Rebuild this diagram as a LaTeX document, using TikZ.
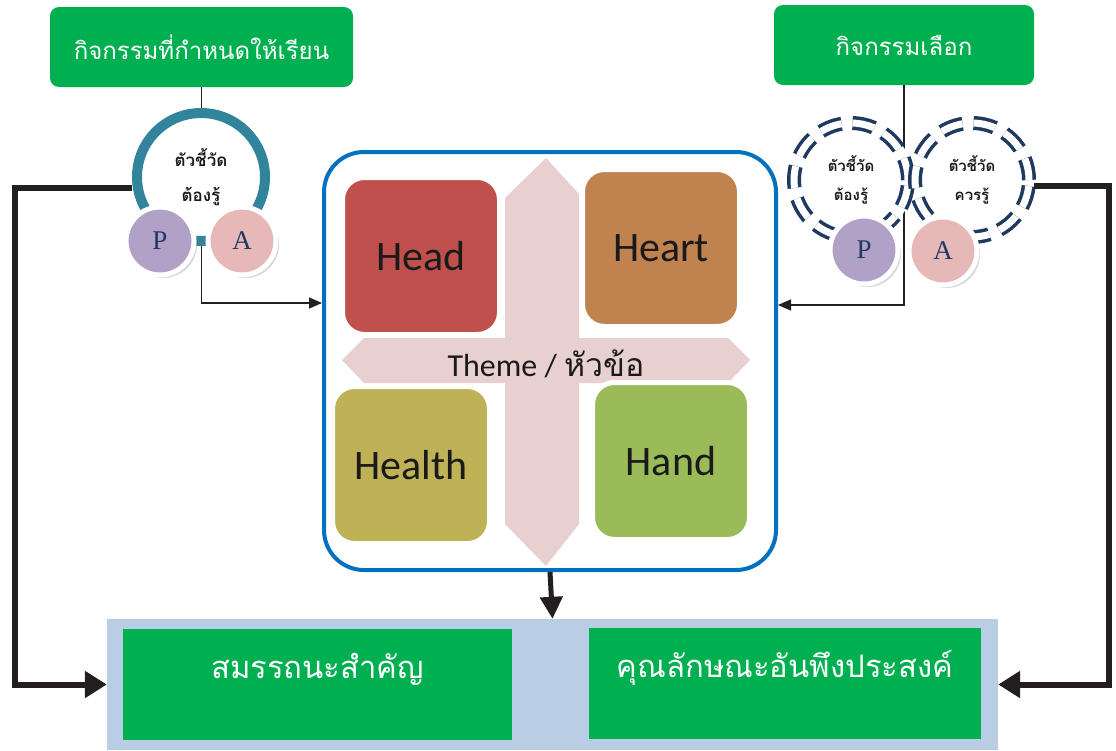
\documentclass[tikz,border=0pt]{standalone}
\usepackage{fontspec}
\setmainfont{Carlito}
\newfontfamily\thai[Script=Thai]{Loma}
\newfontfamily\pafont{Liberation Serif}
\usetikzlibrary{arrows.meta,shadows}
\definecolor{actgreen}{HTML}{00B050}
\definecolor{ringteal}{HTML}{31849B}
\definecolor{dashnavy}{HTML}{1F3A60}
\definecolor{pviolet}{HTML}{B2A1C7}
\definecolor{apink}{HTML}{E6B9B8}
\definecolor{panavy}{HTML}{1F3864}
\definecolor{hubblue}{HTML}{0070C0}
\definecolor{crosspink}{HTML}{E8D0D1}
\definecolor{headred}{HTML}{C0504D}
\definecolor{heartbrown}{HTML}{C0824F}
\definecolor{healtholive}{HTML}{BFB155}
\definecolor{handgreen}{HTML}{9BBB59}
\definecolor{panelblue}{HTML}{B9CDE5}
\definecolor{textdark}{HTML}{1A1A1A}
\definecolor{linedark}{HTML}{231F20}

\begin{document}
\begin{tikzpicture}[x=1pt,y=-1pt,
	actbox/.style={fill=actgreen, rounded corners=9pt, text=white, minimum height=80pt, font=\thai\fontsize{24}{28}\selectfont},
	outbox/.style={fill=actgreen, text=white, minimum width=389pt, minimum height=111pt, text height=22pt, text depth=34pt, font=\thai\fontsize{31}{38}\selectfont},
	quad/.style={draw=white, line width=5pt, rounded corners=22pt, minimum width=157pt, minimum height=157pt, text=textdark, font=\fontsize{42}{48}\selectfont},
	pa/.style={circle, draw=white, line width=5pt, minimum size=68pt, inner sep=0pt, text=panavy, font=\pafont\fontsize{27}{30}\selectfont, drop shadow={opacity=0.35, shadow xshift=3pt, shadow yshift=-3pt}},
	dashfill/.style={circle, fill=white, minimum size=124pt, align=center, text=textdark, font=\thai\bfseries\fontsize{15}{29}\selectfont},
	dashring/.style={draw=dashnavy, line width=3.5pt, double=white, double distance=7pt, dash pattern=on 22pt off 11pt},
	thinarrow/.style={draw=linedark, line width=1.3pt, -{Triangle[length=13pt,width=11pt]}},
	bigarrow/.style={draw=linedark, line width=6pt, -{Triangle[length=22pt,width=26pt]}}
]
	\useasboundingbox (0,0) rectangle (1116,750);

	% output panel
	\node[fill=panelblue, minimum width=891pt, minimum height=131pt, inner sep=0pt] (panel) at (552.5,684.5) {};
	\node[outbox] (out1) at (317.5,684.5) {สมรรถนะสำคัญ};
	\node[outbox, minimum width=392pt] (out2) at (785,683.5) {คุณลักษณะอันพึงประสงค์};

	% theme frame with the cross
	\node[draw=hubblue, line width=4pt, rounded corners=40pt, fill=white, minimum width=452pt, minimum height=418pt] (hub) at (550,361) {};
	\fill[crosspink] (546,158) -- (579,194) -- (579,524) -- (546,566) -- (505,524) -- (505,198) -- cycle;
	\fill[crosspink] (342,360) -- (364,338) -- (728,338) -- (750,360) -- (728,383) -- (364,383) -- cycle;
	\node[text=textdark, font=\fontsize{32}{38}\selectfont] (theme) at (546,364) {Theme / {\thai หัวข้อ}};

	\node[quad, fill=headred] (head) at (421,256) {Head};
	\node[quad, fill=heartbrown] (heart) at (661,248) {Heart};
	\node[quad, fill=healtholive] (health) at (411,465) {Health};
	\node[quad, fill=handgreen] (hand) at (671,461) {Hand};

	\draw[draw=linedark, line width=5pt, -{Triangle[length=22pt,width=22pt]}] (hub.south) -- (panel.north);

	% activities
	\node[actbox, minimum width=303pt] (act1) at (201.5,47) {กิจกรรมที่กำหนดให้เรียน};
	\node[actbox, minimum width=260pt] (act2) at (904,45) {กิจกรรมเลือก};

	\coordinate (inL) at (hub.west |- 0,303);
	\coordinate (inR) at (hub.east |- 0,305);
	\draw[thinarrow] (act1.south) |- (inL);
	\draw[thinarrow] (act2.south) |- (inR);

	% left indicators
	\node[circle, draw=ringteal, line width=10pt, fill=white, minimum size=128pt, align=center, text=textdark, font=\thai\bfseries\fontsize{17}{35}\selectfont] (ring) at (201,177) {ตัวชี้วัด\\ต้องรู้};
	\node[pa, fill=pviolet] (p1) at (160,241) {P};
	\node[pa, fill=apink] (a1) at (242,241) {A};

	% right indicators
	\node[dashfill] (d1) at (851,180) {ตัวชี้วัด\\ต้องรู้};
	\node[dashfill] (d2) at (972,180) {ตัวชี้วัด\\ควรรู้};
	\draw[dashring] (d1.center) circle[radius=57pt];
	\draw[dashring] (d2.center) circle[radius=57pt];
	\node[pa, fill=pviolet] (p2) at (864,250) {P};
	\node[pa, fill=apink] (a2) at (943,251) {A};

	\draw[bigarrow] ([yshift=-11pt]ring.west) -- ++(-117,0) |- (panel.west);
	\draw[bigarrow] ([yshift=-6pt]d2.east) -- ++(75,0) |- (panel.east);
\end{tikzpicture}
\end{document}
